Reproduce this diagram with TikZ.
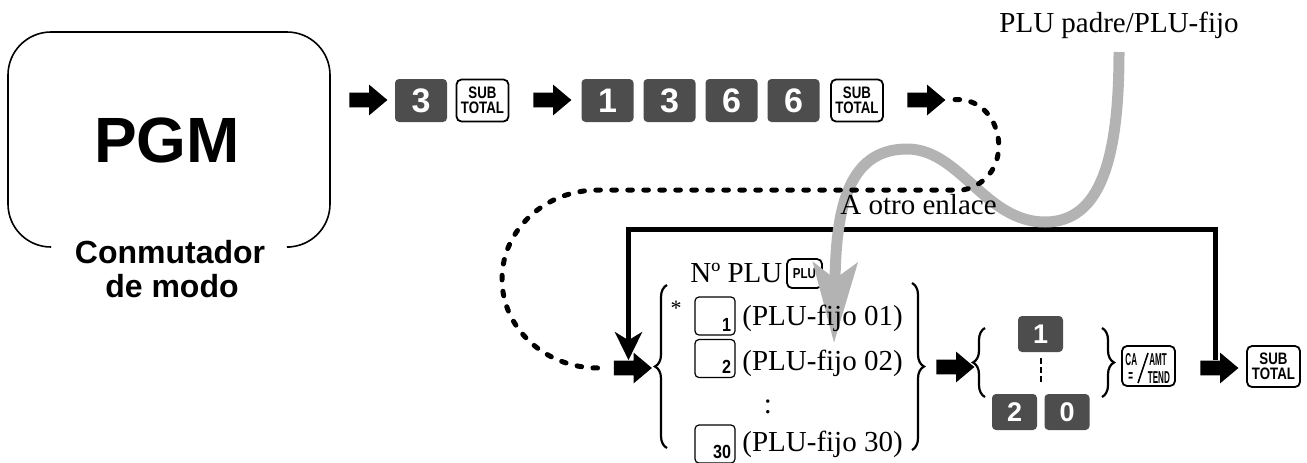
\documentclass[tikz,border=0pt]{standalone}
\usepackage{fontspec}
\setmainfont{Liberation Serif}
\setsansfont{Liberation Sans}
\newfontfamily\narrowsans[FakeStretch=0.85]{Liberation Sans}
\newfontfamily\keysans[FakeStretch=0.8]{Liberation Sans}
\newfontfamily\tightsans[FakeStretch=0.47]{Liberation Sans}
\usepackage{tikz}
\usetikzlibrary{arrows.meta,shapes.arrows,decorations.pathreplacing}
\definecolor{keygray}{HTML}{4D4D4D}
\definecolor{pathgray}{HTML}{B3B3B3}

\begin{document}
\begin{tikzpicture}[x=0.5pt,y=-0.5pt,
  numkey/.style={rectangle,rounded corners=2pt,fill=keygray,text=white,inner sep=0pt,minimum width=26pt,minimum height=21.5pt,font=\sffamily\bfseries\fontsize{17}{17}\selectfont},
  smallkey/.style={numkey,minimum width=22.5pt,minimum height=18pt,font=\sffamily\bfseries\fontsize{13.5}{13.5}\selectfont},
  subkey/.style={rectangle,draw,line width=0.9pt,rounded corners=2.5pt,fill=white,inner sep=0pt,minimum width=26pt,minimum height=21pt,align=center,font=\keysans\bfseries\fontsize{8.3}{7.6}\selectfont},
  blankkey/.style={rectangle,draw,line width=0.6pt,rounded corners=2pt,fill=white,minimum width=20pt,minimum height=19pt},
  keynum/.style={font=\narrowsans\bfseries\fontsize{9.5}{9.5}\selectfont,inner sep=2pt,anchor=south east},
  catext/.style={font=\tightsans\bfseries\fontsize{8.6}{8.6}\selectfont,inner sep=0pt},
  blk/.style={single arrow,fill=black,inner xsep=0pt,inner ysep=3.5pt,minimum height=19pt,single arrow head extend=4pt,single arrow tip angle=80},
  txt/.style={font=\fontsize{14.5}{14.5}\selectfont,inner sep=0pt},
  dots/.style={line width=2.5pt,dash pattern=on 2.3pt off 5.7pt,line cap=round},
  frame/.style={line width=2.5pt},
  grey/.style={draw=pathgray,line width=5.5pt},
  brace/.style={line width=1.1pt,decorate,decoration={brace,amplitude=6pt}}]
  \useasboundingbox (0,0) rectangle (1307,462);

  \draw[line width=0.8pt,rounded corners=21.5pt] (50,247) -| (8,32) -| (330,247) -- (290,247);
  \node[font=\sffamily\bfseries\fontsize{32}{32}\selectfont,anchor=base] (pgm) at (167,162) {PGM};
  \node[font=\sffamily\bfseries\fontsize{16}{16}\selectfont,anchor=base] (mode1) at (170,263) {Conmutador};
  \node[font=\sffamily\bfseries\fontsize{16}{16}\selectfont,anchor=base] (mode2) at (172,297) {de modo};

  \node[blk] (arr1) at (364,100) {};
  \node[numkey] (k3) at (421,100.5) {3};
  \node[subkey] (sub1) at (482.5,100.5) {SUB\\TOTAL};
  \node[blk] (arr2) at (548,100) {};
  \foreach \d [count=\i from 0] in {1,3,6,6}{
     \node[numkey] (n\i) at (607.5+\i*62,100.5) {\d};}
  \node[subkey] (sub2) at (857,100.5) {SUB\\TOTAL};
  \node[blk] (arr3) at (922,100) {};

  \node[blk] (arr4) at (628.5,368) {};
  \node[subkey,minimum width=17.5pt,minimum height=14.5pt,font=\keysans\bfseries\fontsize{7.2}{7.2}\selectfont] (plukey) at (804.5,273.5) {PLU};
  \foreach \k/\y in {1/316,2/358.5,30/444}{
     \node[blankkey,label={[keynum]south east:\k}] (b\k) at (715,\y) {};}
  \draw[brace] (667,448) -- (667,285);
  \draw[brace] (912,283) -- (912,450);

  \node[blk] (arr5) at (951,367) {};
  \node[smallkey] (s1) at (1040.5,334) {1};
  \node[smallkey] (s2) at (1014.5,412) {2};
  \node[smallkey] (s0) at (1067,412) {0};
  \draw[line width=1pt,dash pattern=on 3pt off 1.5pt] (s1.south) ++(0,6) -- ++(0,27);
  \draw[brace] (985,397) -- (985,328);
  \draw[brace] (1102,328) -- (1102,397);
  \node[subkey,minimum width=26.5pt,minimum height=20pt] (ca) at (1148.5,366) {};
  \node[catext,anchor=east] at ([shift={(-11,-6.5)}]ca.center) {CA};
  \node[catext,anchor=west] at ([shift={(0.5,-6.5)}]ca.center) {AMT};
  \node[catext,anchor=east] at ([shift={(-15,11.5)}]ca.center) {=};
  \node[catext,anchor=west] at ([shift={(-1,11.5)}]ca.center) {TEND};
  \draw[line width=0.8pt] ([shift={(-10.5,17)}]ca.center) -- ([shift={(-0.5,-13)}]ca.center);
  \node[blk] (arr6) at (1215,368) {};
  \node[subkey,minimum width=26.5pt,minimum height=20.5pt] (sub3) at (1273.5,366.5) {SUB\\TOTAL};

  \draw[frame,-{Stealth[length=14pt,width=13.5pt,inset=4pt]}] (arr6.north) -- ++(0,-131) -| (arr4.north);
  \coordinate (gtop) at (1119,52);
  \coordinate (gtip) at (834,343);
  \draw[grey,-{Stealth[length=40pt,width=22pt,inset=8pt]}] (gtop) .. controls (1119,160) and (1100,222) .. (1045,222)
     .. controls (985,222) and (960,149) .. (907,149) .. controls (845,149) and (836,215) .. (gtip);
  \draw[dots,shorten <=4.5pt,shorten >=6pt] (arr3.east) .. controls (1005,97) and (1018,178) .. (963,190) -- (598,190)
     arc[start angle=270,end angle=90,x radius=96,y radius=89] -- (arr4.west);

  \node[txt,anchor=base west] (plunum) at (690,282) {Nº PLU};
  \node[txt,anchor=north,font=\fontsize{11}{11}\selectfont] (star) at (676,301) {*};
  \node[txt,anchor=base west] (f01) at (742,325) {(PLU-fijo 01)};
  \node[txt,anchor=base west] (f02) at (742,370) {(PLU-fijo 02)};
  \node[txt] (vdots) at (768,407) {:};
  \node[txt,anchor=base west] (f30) at (742,451) {(PLU-fijo 30)};
  \node[txt,anchor=base west] (other) at (840,214) {A otro enlace};
  \node[txt,anchor=base west] (parent) at (999,32) {PLU padre/PLU-fijo};
\end{tikzpicture}
\end{document}
